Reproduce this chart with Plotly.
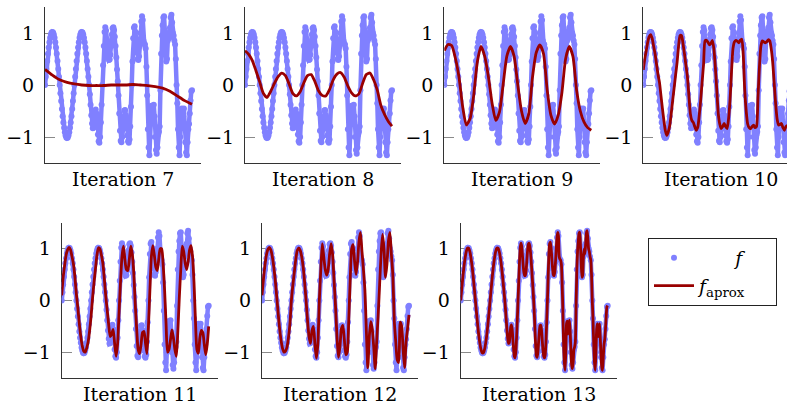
import numpy as np
import plotly.graph_objects as go

# ---------------- data ----------------
ITERATIONS = [7, 8, 9, 10, 11, 12, 13]

# target function f sampled on x in [0, 1] (201 samples)
F_VALUES = [
    0, .16, .31, .46, .60, .72, .82, .91, .97, 1.01, 1.02, 1.01, .97, .91, .82, .72, .60, .46, .31, .16, 0,
    -.16, -.31, -.46, -.60, -.72, -.82, -.91, -.97, -1.01, -1.02, -1.01, -.97, -.91, -.82, -.72, -.60, -.46, -.31, -.16, 0,
    .16, .31, .46, .60, .72, .82, .91, .97, 1.01, 1.02, 1.01, .97, .91, .82, .72, .60, .46, .31, .16, 0,
    -0.18, -0.38, -0.58, -0.74, -0.83, -0.82, -0.68, -0.52, -0.47, -0.55, -0.75, -0.95, -1.08, -1.11, -1.0, -0.72, -0.38, 0.0, 0.38,
    0.75, 1.02, 1.11, 1.05, 0.88, 0.68, 0.54, 0.48, 0.49, 0.58, 0.78, 0.97, 1.09, 1.11, 1.06, 0.93, 0.75, 0.53, 0.3, 0.07,
    -0.2, -0.55, -0.88, -1.07, -1.1, -1.0, -0.8, -0.6, -0.49, -0.48, -0.58, -0.78, -0.97, -1.08, -1.11, -1.05, -0.8, -0.42, 0.0, 0.45,
    0.9, 1.1, 1.13, 1.02, 0.82, 0.62, 0.5, 0.48, 0.55, 0.75, 1.0, 1.22, 1.32, 1.25, 0.85, 0.8, 0.78, 0.7, 0.35, -0.2,
    -0.85, -1.2, -1.35, -1.0, -0.45, -0.4, -0.65, -0.5, -0.38, -0.6, -1.0, -1.25, -1.32, -1.2, -0.95, -0.9, -0.8, -0.1, 0.6, 0.95,
    1.15, 1.3, 1.32, 1.05, 0.7, 0.45, 0.5, 0.85, 1.0, 0.9, 1.1, 1.3, 1.35, 1.2, 1.0, 0.95, 0.85, 0.78, 0.5, 0.0,
    -0.35, -0.85, -1.2, -1.35, -1.0, -0.55, -0.45, -0.7, -0.6, -0.45, -0.75, -1.1, -1.3, -1.35, -1.1, -0.85, -0.75, -0.55, -0.3, -0.12, -0.1,
]

# approximations f_aprox per iteration (each on a uniform grid over [0, 1])
APPROX_7 = [0.30, 0.19, 0.10, 0.05, 0.02, 0.0, -0.01, -0.01, -0.01, 0.0, 0.0,
            0.0, 0.01, 0.0, -0.01, -0.03, -0.06, -0.12, -0.21, -0.3, -0.37]

APPROX_8 = [0.66, 0.59, 0.47, 0.27, 0.06, -0.16, -0.24, -0.12, 0.03, 0.16, 0.23,
            0.18, 0.02, -0.16, -0.21, -0.13, 0.04, 0.18, 0.2, 0.07, -0.11,
            -0.2, -0.21, -0.09, 0.1, 0.21, 0.24, 0.15, -0.02, -0.15, -0.21,
            -0.17, 0.03, 0.2, 0.23, 0.1, -0.1, -0.4, -0.57, -0.7, -0.79]

APPROX_9 = [0.66, 0.78, 0.76, 0.52, 0.15, -0.42, -0.77, -0.65, -0.2, 0.45, 0.74,
            0.55, 0.16, -0.35, -0.68, -0.52, 0.0, 0.55, 0.74, 0.55, 0.0,
            -0.5, -0.74, -0.55, 0.15, 0.62, 0.77, 0.6, -0.1, -0.58, -0.75,
            -0.58, -0.15, 0.5, 0.74, 0.55, -0.1, -0.5, -0.71, -0.82, -0.87]

APPROX_10 = [0.29, 0.5, 0.66, 0.82, 0.93, 0.97, 0.9, 0.75, 0.6, 0.4,
             0.2, 0.05, -0.2, -0.45, -0.68, -0.88, -0.97, -0.9, -0.78, -0.55,
             -0.29, -0.05, 0.2, 0.44, 0.75, 0.95, 0.95, 0.8, 0.6, 0.38,
             0.16, -0.2, -0.55, -0.68, -0.72, -0.8, -0.87, -0.82, -0.6, -0.3,
             0.05, 0.4, 0.85, 0.86, 0.82, 0.77, 0.8, 0.86, 0.7, 0.35,
             -0.1, -0.55, -0.75, -0.84, -0.8, -0.74, -0.8, -0.84, -0.65, -0.29,
             0.25, 0.7, 0.83, 0.86, 0.84, 0.81, 0.86, 0.88, 0.58, -0.1,
             -0.5, -0.75, -0.82, -0.84, -0.8, -0.77, -0.82, -0.8, -0.25, 0.35,
             0.75, 0.85, 0.83, 0.81, 0.83, 0.87, 0.85, 0.7, 0.45, 0.05,
             -0.35, -0.65, -0.77, -0.76, -0.74, -0.82, -0.87, -0.8, -0.78, -0.8,
             -0.82]

APPROX_11 = [0.1, 0.45, 0.68, 0.88, 0.98, 1.03, 0.98, 0.85, 0.7, 0.45,
             0.12, -0.15, -0.45, -0.7, -0.88, -0.98, -1.0, -0.92, -0.8, -0.58,
             -0.3, 0.05, 0.35, 0.62, 0.88, 1.02, 1.0, 0.88, 0.72, 0.42,
             0.08, -0.2, -0.48, -0.7, -0.65, -0.56, -0.83, -1.08, -0.85, -0.25,
             0.35, 0.85, 1.05, 0.79, 0.6, 0.58, 0.8, 1.05, 0.9, 0.55,
             -0.05, -0.55, -0.95, -1.03, -0.85, -0.62, -0.6, -0.83, -1.03, -0.5,
             0.2, 0.85, 1.06, 0.88, 0.65, 0.58, 0.8, 1.0, 1.0, 0.7,
             0.2, -0.45, -1.0, -0.95, -0.76, -0.57, -0.72, -0.95, -1.08, -0.6,
             0.05, 0.6, 1.05, 0.95, 0.72, 0.6, 0.75, 0.98, 1.06, 0.85,
             0.35, -0.4, -0.95, -1.02, -0.72, -0.58, -0.62, -0.85, -1.05, -0.85,
             -0.5]

APPROX_12 = [0.1, 0.42, 0.68, 0.88, 0.99, 1.03, 0.98, 0.85, 0.65, 0.4,
             0.08, -0.25, -0.55, -0.78, -0.93, -1.0, -0.98, -0.9, -0.72, -0.45,
             0.0, 0.3, 0.55, 0.8, 0.97, 1.02, 0.97, 0.85, 0.65, 0.35,
             0.0, -0.4, -0.7, -0.83, -0.58, -0.5, -0.85, -1.12, -0.85, 0.0,
             0.6, 1.1, 0.85, 0.6, 0.49, 0.6, 0.9, 1.1, 0.9, 0.4,
             -0.1, -0.7, -1.1, -0.9, -0.55, -0.48, -0.75, -1.05, -1.0, -0.4,
             0.4, 1.0, 1.08, 0.75, 0.5, 0.75, 1.15, 1.32, 0.95, 0.6,
             0.2, -0.6, -1.3, -0.7, -0.41, -0.55, -0.9, -1.32, -0.8, -0.3,
             0.3, 0.9, 1.28, 1.0, 0.45, 0.7, 1.15, 1.32, 0.9, 0.5,
             -0.4, -0.8, -1.15, -1.2, -0.42, -0.5, -0.95, -1.3, -0.8, -0.55,
             -0.28]

APPROX_13 = list(F_VALUES)

APPROX = [APPROX_7, APPROX_8, APPROX_9, APPROX_10, APPROX_11, APPROX_12, APPROX_13]
TITLES = [f"Iteration {n}" for n in ITERATIONS]
Y_TICKS = [-1, 0, 1]
Y_TICK_TEXT = ["\u22121", "0", "1"]
NB = "\u00a0"
LEGEND_F = NB * 6 + "<i>f</i>"
LEGEND_APROX = "<i>f</i><sub>aprox</sub>" + NB * 4

assert len(F_VALUES) == 201

# ---------------- layout ----------------
W, H = 787, 410
FONT = "DejaVu Serif"
BLUE = "#8080ff"
RED = "#990000"
PX_PER_UNIT = 147.0
PANEL_W = 156.0
# (left, top, height) of each panel in pixels
PANELS = [(45, 7, 156), (245, 7, 156), (444.3, 7, 156), (643.3, 7, 156),
          (61.7, 223, 155), (262, 223, 155), (460.7, 223, 155)]

fig = go.Figure()
layout = dict(width=W, height=H, margin=dict(l=0, r=0, t=0, b=0),
              paper_bgcolor="white", plot_bgcolor="white",
              font=dict(family=FONT, size=19, color="black"),
              showlegend=True)
annotations = []

xf = np.linspace(0, 1, len(F_VALUES))
for i, (left, top, ph) in enumerate(PANELS):
    idx = "" if i == 0 else str(i + 1)
    right = min(left + PANEL_W, W)
    xa = dict(domain=[left / W, right / W], range=[0, (right - left) / PX_PER_UNIT],
              showline=True, linecolor="#333", linewidth=1.1, ticks="",
              showticklabels=False, showgrid=False, zeroline=False,
              anchor="y" + idx, fixedrange=True)
    ya = dict(domain=[1 - (top + ph) / H, 1 - top / H], range=[-1.5, 1.5],
              tickvals=Y_TICKS, ticktext=Y_TICK_TEXT, ticks="inside", ticklen=10,
              tickcolor="#8a8a8a", tickwidth=1, showline=True, linecolor="#333",
              linewidth=1.1, showgrid=False, zeroline=False, anchor="x" + idx,
              tickfont=dict(family=FONT, size=19, color="black"),
              ticklabelstandoff=6, layer="below traces", fixedrange=True)
    layout["xaxis" + idx] = xa
    layout["yaxis" + idx] = ya

    # dense band of the sampled f values (same data, joined so the cloud reads continuous)
    fig.add_trace(go.Scatter(x=xf, y=F_VALUES, mode="lines",
                             line=dict(color=BLUE, width=4.5),
                             showlegend=False, hoverinfo="skip",
                             xaxis="x" + idx, yaxis="y" + idx))
    fig.add_trace(go.Scatter(x=xf, y=F_VALUES, mode="markers",
                             marker=dict(color=BLUE, size=6, line=dict(width=0)),
                             name=LEGEND_F, showlegend=(i == 0),
                             xaxis="x" + idx, yaxis="y" + idx, cliponaxis=True))
    ap = APPROX[i]
    fig.add_trace(go.Scatter(x=np.linspace(0, 1, len(ap)), y=ap, mode="lines",
                             line=dict(color=RED, width=2.8, shape="spline", smoothing=0.6),
                             name=LEGEND_APROX, showlegend=(i == 0),
                             xaxis="x" + idx, yaxis="y" + idx))

    annotations.append(dict(text=TITLES[i], xref="paper", yref="paper",
                            x=(left + PANEL_W / 2) / W, y=1 - (top + ph + 16) / H,
                            xanchor="center", yanchor="middle", showarrow=False,
                            font=dict(family=FONT, size=19, color="black")))

layout["annotations"] = annotations
layout["legend"] = dict(x=648 / W, y=1 - 238 / H, xanchor="left", yanchor="top",
                        bgcolor="white", bordercolor="#222", borderwidth=1,
                        font=dict(family=FONT, size=19, color="black"),
                        tracegroupgap=0, itemwidth=40)
fig.update_layout(**layout)
fig.write_html("out.html")
